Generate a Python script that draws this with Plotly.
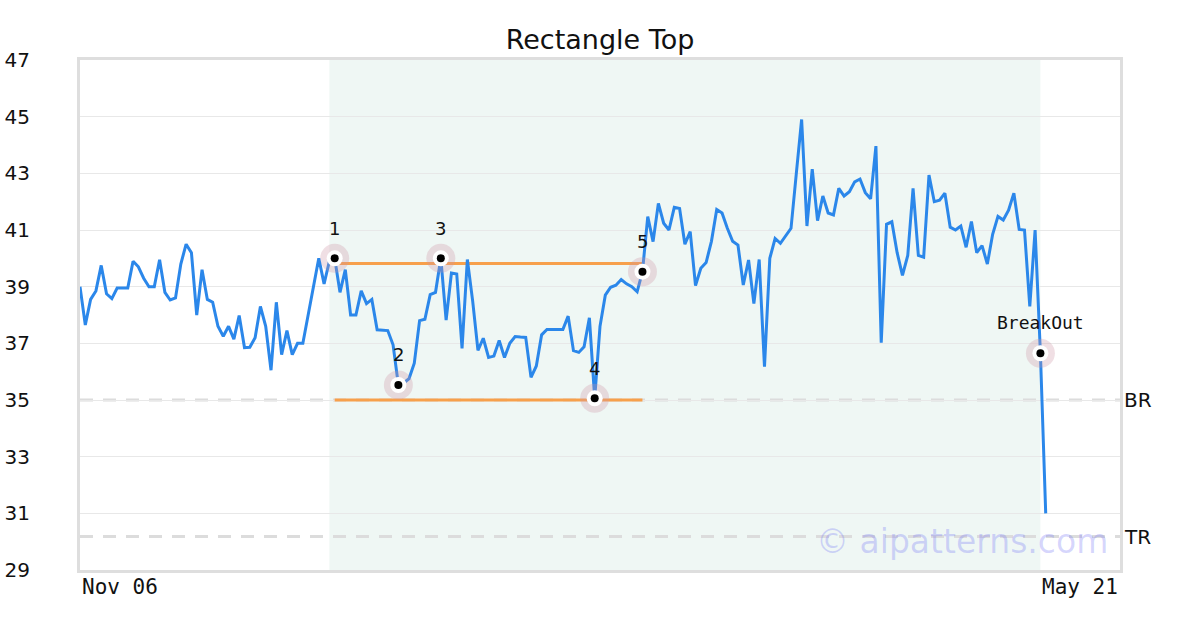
import pandas as pd
import plotly.graph_objects as go

# daily closes, Nov 06 onward
prices = [
    39.0, 37.65, 38.55, 38.85, 39.75, 38.75, 38.58, 38.95, 38.95, 38.95,
    39.9, 39.7, 39.3, 39.0, 39.0, 39.95, 38.8, 38.53, 38.6, 39.8,
    40.5, 40.2, 38.0, 39.6, 38.55, 38.45, 37.6, 37.25, 37.6, 37.15,
    37.98, 36.85, 36.86, 37.2, 38.3, 37.6, 36.05, 38.45, 36.6, 37.45,
    36.6, 37.0, 37.0, 38.0, 38.95, 40.0, 39.1, 39.9, 40.0, 38.8,
    39.6, 38.0, 38.0, 38.85, 38.4, 38.55, 37.48, 37.46, 37.45, 36.95,
    35.53, 35.6, 35.75, 36.3, 37.8, 37.85, 38.72, 38.8, 40.0, 37.82,
    39.48, 39.45, 36.82, 39.96, 38.5, 36.75, 37.18, 36.5, 36.55, 37.1,
    36.5, 37.0, 37.24, 37.22, 37.21, 35.8, 36.2, 37.3, 37.49, 37.49,
    37.49, 37.49, 37.96, 36.74, 36.68, 36.88, 37.9, 35.06, 37.6, 38.7,
    38.98, 39.05, 39.25, 39.1, 39.0, 38.82, 39.53, 41.47, 40.59, 41.94,
    41.24, 41.0, 41.8, 41.76, 40.5, 40.94, 39.04, 39.65, 39.85, 40.6,
    41.72, 41.6, 41.06, 40.6, 40.47, 39.06, 39.94, 38.4, 39.96, 36.18,
    40.0, 40.7, 40.53, 40.8, 41.06, 43.0, 44.9, 41.14, 43.15, 41.33,
    42.2, 41.6, 41.53, 42.47, 42.2, 42.35, 42.7, 42.8, 42.32, 42.1,
    43.96, 37.02, 41.2, 41.29, 40.2, 39.4, 40.1, 42.47, 40.1, 40.04,
    42.94, 42.0, 42.05, 42.3, 41.1, 41.0, 41.14, 40.39, 41.3, 40.2,
    40.45, 39.8, 40.85, 41.48, 41.35, 41.7, 42.3, 41.02, 41.0, 38.3,
    41.0, 36.65, 31.0,
]
dates = pd.date_range("2020-11-06", periods=len(prices), freq="D")

pivot_idx = [48, 60, 68, 97, 106]
pivot_lbl = ["1", "2", "3", "4", "5"]
breakout_idx = 181
zone_start_idx = 47

resistance = 39.82
support = 35.0
target = 30.18  # support minus rectangle height

axis_start, axis_end = "2020-11-06", "2021-05-21"

BLUE = "#2b87ea"
ORANGE = "#f7a04b"
GRID = "#e8e8e8"
BORDER = "#dedede"
DASH = "#dcdcdc"
MINT = "#eff7f4"
FONT = "DejaVu Sans, sans-serif"
MONO = "DejaVu Sans Mono, monospace"

W, H = 1200, 630

fig = go.Figure()

# pattern zone
fig.add_shape(type="rect", xref="x", yref="paper",
              x0=dates[zone_start_idx], x1=dates[breakout_idx], y0=0, y1=1,
              fillcolor=MINT, line_width=0, layer="below")

# BR / TR dashed levels
for lvl in (support, target):
    fig.add_shape(type="line", xref="paper", yref="y", x0=0, x1=1, y0=lvl, y1=lvl,
                  line=dict(color=DASH, width=3, dash="13px,10px"), layer="below")

# rectangle boundaries
x_a, x_b = dates[pivot_idx[0]], dates[pivot_idx[-1]]
for lvl in (resistance, support):
    fig.add_trace(go.Scatter(x=[x_a, x_b], y=[lvl, lvl], mode="lines",
                             line=dict(color=ORANGE, width=3), hoverinfo="skip"))

fig.add_trace(go.Scatter(x=dates, y=prices, mode="lines",
                         line=dict(color=BLUE, width=3)))

mk_x = [dates[i] for i in pivot_idx] + [dates[breakout_idx]]
mk_y = [prices[i] for i in pivot_idx] + [prices[breakout_idx]]
for size, col in ((29, "rgba(205,150,165,0.3)"), (16, "white"), (8, "black")):
    fig.add_trace(go.Scatter(x=mk_x, y=mk_y, mode="markers", hoverinfo="skip",
                             marker=dict(size=size, color=col, line_width=0)))

for i, lbl in zip(pivot_idx, pivot_lbl):
    fig.add_annotation(x=dates[i], y=prices[i], text=lbl, showarrow=False,
                       yshift=30, font=dict(family=FONT, size=18, color="#111"))
fig.add_annotation(x=dates[breakout_idx], y=prices[breakout_idx], text="BreakOut",
                   showarrow=False, yshift=31, font=dict(family=MONO, size=18, color="#111"))

for lvl, txt in ((support, "BR"), (target, "TR")):
    fig.add_annotation(xref="paper", x=1, y=lvl, text=txt, showarrow=False,
                       xanchor="left", xshift=2, font=dict(family=FONT, size=20, color="#111"))

fig.add_annotation(xref="paper", yref="paper", x=0, y=0, text="Nov 06", showarrow=False,
                   xanchor="left", yanchor="top", yshift=-3,
                   font=dict(family=MONO, size=21, color="#111"))
fig.add_annotation(xref="paper", yref="paper", x=1, y=0, text="May 21", showarrow=False,
                   xanchor="right", yanchor="top", yshift=-3,
                   font=dict(family=MONO, size=21, color="#111"))

fig.add_annotation(xref="paper", yref="paper", x=0.99, y=0.056, text="© aipatterns.com",
                   showarrow=False, xanchor="right", yanchor="middle",
                   font=dict(family=FONT, size=33, color="rgba(110,110,245,0.28)"))

fig.update_layout(
    width=W, height=H,
    margin=dict(l=80, r=80, t=60, b=60, autoexpand=False),
    paper_bgcolor="white", plot_bgcolor="white",
    showlegend=False,
    title=dict(text="Rectangle Top", x=0.5, xanchor="center",
               yref="container", y=1 - 40 / H, yanchor="middle",
               font=dict(family=FONT, size=27, color="#111")),
    font=dict(family=FONT, color="#111"),
)
fig.update_xaxes(type="date", range=[axis_start, axis_end], showgrid=False,
                 showticklabels=False, showline=True, mirror=True,
                 linecolor=BORDER, linewidth=3, zeroline=False)
fig.update_yaxes(range=[29, 47], dtick=2, tick0=29, gridcolor=GRID, gridwidth=1,
                 showline=True, mirror=True, linecolor=BORDER, linewidth=3,
                 zeroline=False, ticklabelstandoff=43,
                 tickfont=dict(family=FONT, size=20, color="#111"))

# drop the default body margin so the figure sits at the window's corner
fig.write_html("out.html", config={"displayModeBar": False},
               post_script="document.body.style.margin='0';")
